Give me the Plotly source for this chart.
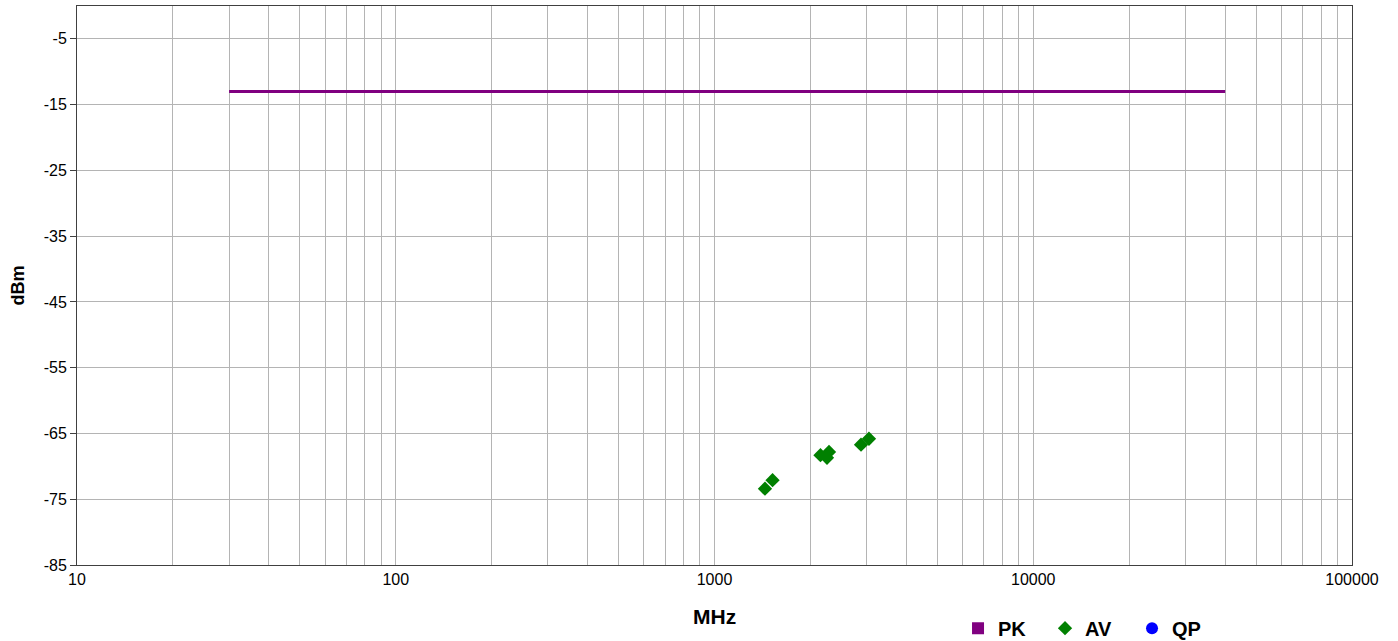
import plotly.graph_objects as go

# Limit line (dBm) across its frequency span (MHz)
limit_freq = [30, 40000]
limit_level = [-13, -13]

# Average detector readings
av_freq = [1440, 1521, 2150, 2287, 2254, 2882, 3052]
av_level = [-73.4, -72.1, -68.3, -67.8, -68.7, -66.7, -65.8]

# Peak and quasi-peak detector readings (none recorded)
pk_freq = [None]
pk_level = [None]
qp_freq = [None]
qp_level = [None]

# Axis ticks
decades = [10, 100, 1000, 10000, 100000]
y_ticks = [-5, -15, -25, -35, -45, -55, -65, -75, -85]

x_tickvals = []
x_ticktext = []
for d in decades[:-1]:
    for m in range(1, 10):
        x_tickvals.append(d * m)
        x_ticktext.append(str(d) if m == 1 else "")
x_tickvals.append(decades[-1])
x_ticktext.append(str(decades[-1]))

FONT = "Liberation Sans, Arial, sans-serif"

fig = go.Figure()
fig.add_trace(go.Scatter(
    x=limit_freq, y=limit_level, mode="lines",
    line=dict(color="#800080", width=3), showlegend=False, hoverinfo="skip"))
fig.add_trace(go.Scatter(
    x=pk_freq, y=pk_level, mode="markers", name="PK", showlegend=True,
    marker=dict(symbol="square", color="#800080", size=12)))
fig.add_trace(go.Scatter(
    x=av_freq, y=av_level, mode="markers", name="AV",
    marker=dict(symbol="diamond", color="#008000", size=11)))
fig.add_trace(go.Scatter(
    x=qp_freq, y=qp_level, mode="markers", name="QP", showlegend=True,
    marker=dict(symbol="circle", color="#0000ff", size=12)))

fig.update_layout(
    width=1398, height=641,
    margin=dict(l=77, r=46, t=6, b=76, autoexpand=False),
    paper_bgcolor="white", plot_bgcolor="white",
    font=dict(family=FONT, color="black"),
    legend=dict(orientation="h", x=0.691, xanchor="left",
                yref="container", y=0.02, yanchor="middle",
                entrywidth=42, entrywidthmode="pixels",
                font=dict(family=FONT, size=20, color="black", weight="bold"),
                bgcolor="rgba(0,0,0,0)"),
    xaxis=dict(
        type="log", range=[1, 5],
        tickmode="array", tickvals=x_tickvals, ticktext=x_ticktext,
        tickfont=dict(size=16), ticks="",
        showgrid=True, gridcolor="#b4b4b4", gridwidth=1,
        showline=True, linecolor="#404040", linewidth=1, mirror=True,
        zeroline=False,
    ),
    yaxis=dict(
        range=[-85, 0],
        tickmode="array", tickvals=y_ticks, ticktext=[str(v) for v in y_ticks],
        tickfont=dict(size=16), ticks="outside", ticklen=6, tickcolor="#404040",
        showgrid=True, gridcolor="#b4b4b4", gridwidth=1,
        showline=True, linecolor="#404040", linewidth=1, mirror=True,
        zeroline=False,
        title=dict(text="dBm", font=dict(size=18, weight="bold"), standoff=14),
    ),
    annotations=[dict(
        text="MHz", x=0.5, y=-0.093, xref="paper", yref="paper",
        xanchor="center", yanchor="middle", showarrow=False,
        font=dict(family=FONT, size=21, color="black", weight="bold"),
    )],
)

fig.write_html("out.html")
